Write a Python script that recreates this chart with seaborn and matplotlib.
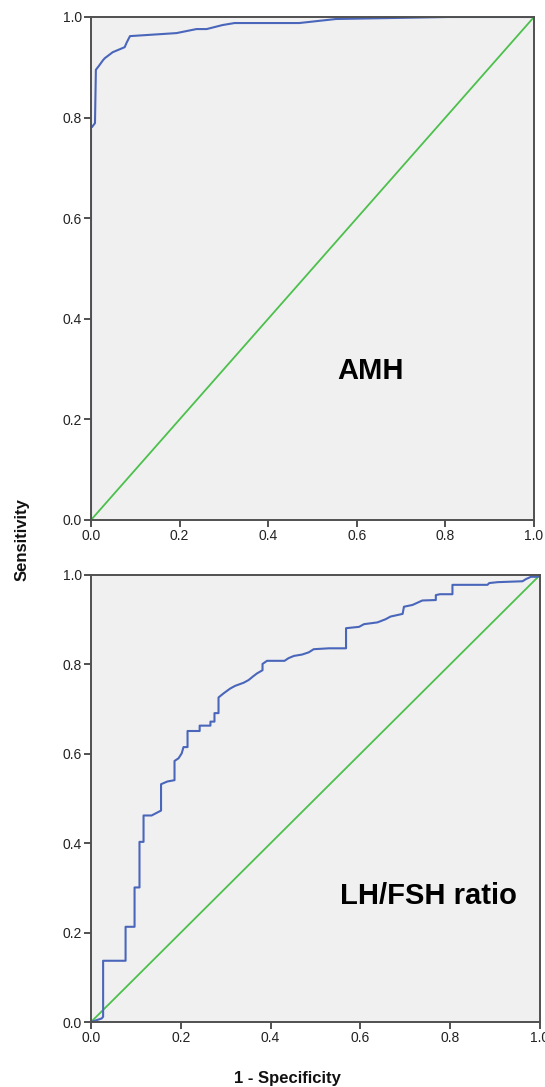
import numpy as np
import pandas as pd
import matplotlib
matplotlib.use("Agg")
import matplotlib.pyplot as plt
import seaborn as sns

# ROC curve for AMH (1 - specificity, sensitivity)
amh_fpr = [0.0, 0.0, 0.002, 0.009, 0.011, 0.018, 0.027, 0.031, 0.049, 0.076, 0.081, 0.088,
           0.193, 0.238, 0.261, 0.297, 0.324, 0.47, 0.553, 0.807, 1.0]
amh_tpr = [0.0, 0.781, 0.781, 0.789, 0.895, 0.903, 0.914, 0.918, 0.930, 0.940, 0.950, 0.962,
           0.968, 0.976, 0.976, 0.984, 0.988, 0.988, 0.996, 1.0, 1.0]

# ROC curve for LH/FSH ratio
lh_fpr = [0.0, 0.024, 0.027, 0.027, 0.077, 0.077, 0.097, 0.097, 0.108, 0.108, 0.117, 0.117,
          0.135, 0.156, 0.156, 0.170, 0.186, 0.186, 0.195, 0.202, 0.206, 0.215, 0.215, 0.242,
          0.242, 0.266, 0.266, 0.275, 0.275, 0.284, 0.284, 0.295, 0.310, 0.321, 0.340, 0.351,
          0.362, 0.370, 0.382, 0.382, 0.392, 0.431, 0.440, 0.452, 0.470, 0.485, 0.496, 0.530,
          0.568, 0.568, 0.597, 0.608, 0.638, 0.656, 0.667, 0.694, 0.697, 0.716, 0.727, 0.738,
          0.768, 0.768, 0.777, 0.805, 0.805, 0.883, 0.887, 0.906, 0.961, 0.969, 0.980, 0.995, 1.0]
lh_tpr = [0.0, 0.008, 0.012, 0.137, 0.137, 0.213, 0.213, 0.301, 0.301, 0.403, 0.403, 0.462,
          0.462, 0.473, 0.532, 0.538, 0.541, 0.584, 0.590, 0.601, 0.615, 0.615, 0.651, 0.651,
          0.663, 0.663, 0.672, 0.672, 0.691, 0.691, 0.726, 0.735, 0.746, 0.752, 0.759, 0.765,
          0.774, 0.780, 0.787, 0.801, 0.808, 0.808, 0.814, 0.819, 0.822, 0.827, 0.834, 0.836,
          0.836, 0.881, 0.884, 0.890, 0.894, 0.901, 0.907, 0.913, 0.929, 0.933, 0.938, 0.943,
          0.944, 0.955, 0.957, 0.957, 0.978, 0.978, 0.982, 0.984, 0.986, 0.991, 0.996, 0.996, 1.0]

ref_line = [0.0, 1.0]
ticks = [0.0, 0.2, 0.4, 0.6, 0.8, 1.0]
panel_labels = ["AMH", "LH/FSH ratio"]

BLUE = "#4a66bb"
GREEN = "#4cc04c"
BG = "#f0f0f0"
EDGE = "#505050"

sns.set_style("white")
plt.rcParams['font.family'] = ['Liberation Sans', 'DejaVu Sans']

fig = plt.figure(figsize=(5.45, 10.87), dpi=100)
ax_top = fig.add_axes([91 / 545, 1 - 520 / 1087, 443 / 545, 503 / 1087])
ax_bot = fig.add_axes([91 / 545, 1 - 1022 / 1087, 449 / 545, 447 / 1087])

curves = [(amh_fpr, amh_tpr), (lh_fpr, lh_tpr)]
label_pos = [(0.632, 0.296), (0.751, 0.282)]

for ax, (fpr, tpr), name, (lx, ly) in zip([ax_top, ax_bot], curves, panel_labels, label_pos):
    ax.set_facecolor(BG)
    df = pd.DataFrame({"fpr": fpr, "tpr": tpr})
    diag = pd.DataFrame({"fpr": ref_line, "tpr": ref_line})
    sns.lineplot(data=diag, x="fpr", y="tpr", ax=ax, color=GREEN, lw=1.3,
                 sort=False, estimator=None)
    sns.lineplot(data=df, x="fpr", y="tpr", ax=ax, color=BLUE, lw=1.5,
                 sort=False, estimator=None)
    ax.set_xlim(0, 1)
    ax.set_ylim(0, 1)
    ax.set_xticks(ticks)
    ax.set_yticks(ticks)
    ax.set_xticklabels([f"{t:.1f}" for t in ticks])
    ax.set_yticklabels([f"{t:.1f}" for t in ticks])
    ax.set_xlabel("")
    ax.set_ylabel("")
    for s in ax.spines.values():
        s.set_color(EDGE)
        s.set_linewidth(1.4)
    ax.tick_params(bottom=True, left=True, direction="out", length=5, width=1.4,
                   color=EDGE, labelsize=10, labelcolor="#222222", pad=1.5)
    ax.text(lx, ly, name, transform=ax.transData, ha="center", va="center",
            fontsize=21, fontweight="bold", color="black")

fig.text(0.04, 0.504, "Sensitivity", rotation=90, ha="center", va="center",
         fontsize=12, fontweight="bold", color="#111111")
fig.text(287 / 545, 4 / 1087, "1 - Specificity", ha="center", va="baseline",
         fontsize=12, fontweight="bold", color="#111111")

fig.savefig("out.png", dpi=100, facecolor="white")
